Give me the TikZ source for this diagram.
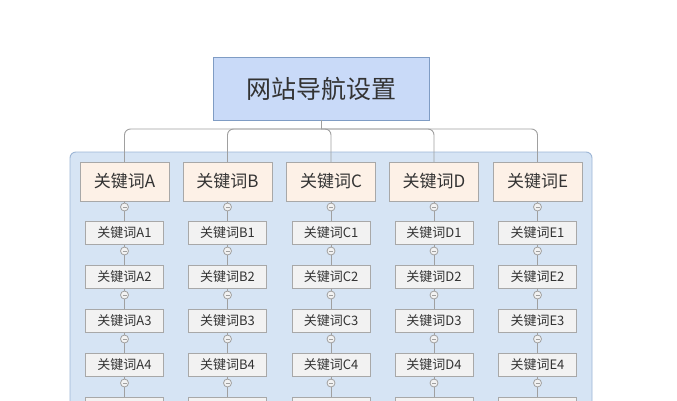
\documentclass[tikz,border=0pt]{standalone}
\usepackage{fontspec}
\setmainfont{Noto Sans CJK SC}
\definecolor{rootfill}{HTML}{C9DAF8}
\definecolor{rootdraw}{HTML}{7F9CC4}
\definecolor{contfill}{HTML}{D6E4F4}
\definecolor{contdraw}{HTML}{9DB6D6}
\definecolor{lonefill}{HTML}{FDF1E7}
\definecolor{ltwofill}{HTML}{F2F2F2}
\definecolor{boxdraw}{HTML}{A8A8A8}
\definecolor{linecol}{HTML}{A0A0A0}
\definecolor{txt}{HTML}{333333}
\begin{document}
\begin{tikzpicture}[x=1pt,y=-1pt,
  rootbox/.style={draw=rootdraw,fill=rootfill,minimum width=216pt,minimum height=63pt,inner sep=0pt,font=\fontsize{25}{28}\selectfont,text=txt},
  lonebox/.style={draw=boxdraw,fill=lonefill,minimum width=89pt,minimum height=39pt,inner sep=0pt,font=\fontsize{17}{20}\selectfont,text=txt},
  ltwobox/.style={draw=boxdraw,fill=ltwofill,minimum width=78pt,minimum height=23pt,inner sep=0pt,font=\fontsize{13}{15}\selectfont,text=txt},
  conn/.style={draw=linecol,line width=0.9pt},
  coll/.style={circle,draw=linecol,fill=ltwofill,minimum size=8pt,inner sep=0pt,line width=0.8pt,
    path picture={\draw[linecol,line width=0.6pt] ([xshift=-2pt]path picture bounding box.center) -- ([xshift=2pt]path picture bounding box.center);}},
  contbox/.style={draw=contdraw,fill=contfill,rounded corners=6pt,line width=0.9pt}
]
\useasboundingbox (0,0) rectangle (677,400);
\clip (0,0) rectangle (677,400);
\fill[white] (0,0) rectangle (677,400);
\draw[contbox] (70,152) rectangle (592,440);
\node[rootbox] (root) at (321,88.5) {网站导航设置};
\coordinate (bus) at (321,129);
\draw[conn] (root.south) -- (bus);
\foreach \c/\x in {A/124.5,B/227.5,C/331,D/434,E/537.5}{
  \node[lonebox] (\c) at (\x,181.5) {关键词\c};
  \draw[conn,rounded corners=6pt] (bus) -| (\c.north);
  \foreach \r/\y in {1/233,2/277,3/321,4/365}{
    \node[ltwobox] (\c\r) at (\x,\y) {关键词\c\r};
  }
  \node[ltwobox] (\c5) at (\x,409) {};
  \draw[conn] (\c.south) -- (\c1.north);
  \draw[conn] (\c1.south) -- (\c2.north);
  \draw[conn] (\c2.south) -- (\c3.north);
  \draw[conn] (\c3.south) -- (\c4.north);
  \draw[conn] (\c4.south) -- (\c5.north);
  \node[coll] (\c k0) at (\x,207) {};
  \node[coll] (\c k1) at (\x,251) {};
  \node[coll] (\c k2) at (\x,295) {};
  \node[coll] (\c k3) at (\x,339) {};
  \node[coll] (\c k4) at (\x,383) {};
}
\end{tikzpicture}
\end{document}
